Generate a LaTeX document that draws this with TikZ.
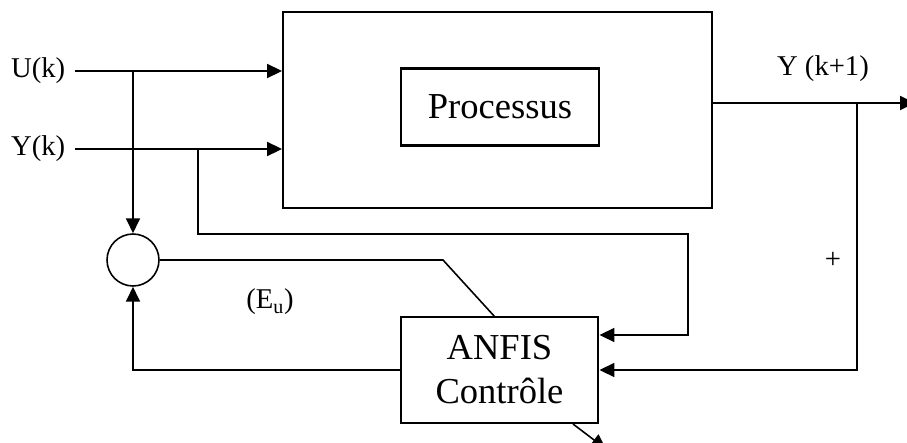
\documentclass[tikz,border=0pt]{standalone}
\usepackage{fontspec}
\setmainfont{Liberation Serif}
\usetikzlibrary{arrows.meta,calc}
\begin{document}
\begin{tikzpicture}[x=0.02cm,y=-0.02cm, line width=0.9pt,
  blk/.style={draw, line width=1.15pt, inner sep=0pt},
  sig/.style={-{Triangle[length=8.5pt,width=8pt]}},
  lbl/.style={font=\fontsize{16.3}{18}\selectfont, inner sep=0pt},
  bigtxt/.style={font=\fontsize{20.8}{25}\selectfont}]
\useasboundingbox (0,0) rectangle (907,443);

% blocks
\node[blk, minimum width=8.58cm, minimum height=3.92cm] (plant) at (497.5,110) {};
\node[blk, bigtxt, minimum width=3.98cm, minimum height=1.54cm] (proc) at (500,107) {Processus};
\node[blk, bigtxt, minimum width=3.96cm, minimum height=2.12cm, align=center] (anfis) at (499.5,370) {ANFIS\\Contrôle};
\node[draw, circle, minimum size=1.04cm, inner sep=0pt] (sum) at (133,260) {};

% labels
\node[lbl, anchor=east] (lu) at (66,71) {U(k)};
\node[lbl, anchor=east] (ly) at (66,149) {Y(k)};
\node[lbl] (lyo) at (823,69) {Y (k+1)};
\node[lbl] (lplus) at (833,260) {+};
\node[lbl] (leu) at (270,302) {(E\textsubscript{u})};

% connection points
\coordinate (uin) at (75,71);
\coordinate (yin) at (75,149);
\coordinate (ju) at (133,71);
\coordinate (jy) at (198,149);
\coordinate (cy) at (688,234);
\coordinate (yout) at (712,103);
\coordinate (yend) at (915,103);
\coordinate (jo) at (857,103);
\coordinate (ebend) at (443,260);
\coordinate (etop) at (495,317);
\coordinate (dend) at (606,449);

% signals
\draw[sig] (uin) -- (uin -| plant.west);
\draw[sig] (yin) -- (yin -| plant.west);
\draw[sig] (ju) -- (sum.north);
\draw[sig] (jy) |- (cy) |- ($(anfis.east)+(0,-35)$);
\draw[sig] (yout) -- (yend);
\draw[sig] (jo) |- (anfis.east);
\draw (sum.east) -- (ebend) -- (etop);
\draw[sig] (anfis.west) -| (sum.south);
\draw[sig] ($(anfis.south)+(73.5,0)$) -- (dend);
\end{tikzpicture}
\end{document}
